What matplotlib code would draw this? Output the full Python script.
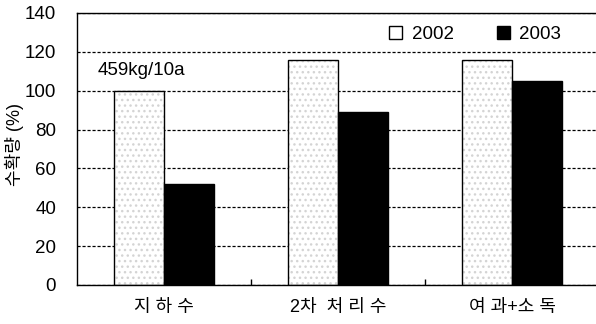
import numpy as np
import matplotlib.pyplot as plt

plt.rcParams['font.family'] = ['Liberation Sans', 'Noto Sans CJK KR']

# yield relative to groundwater irrigation (%)
categories = ['지 하 수', '2차  처 리 수', '여 과+소 독']
yield_2002 = [100, 116, 116]
yield_2003 = [52, 89, 105]
years = ['2002', '2003']
y_ticks = [0, 20, 40, 60, 80, 100, 120, 140]

fig = plt.figure(figsize=(5.96, 3.24), dpi=100)
ax = fig.add_axes([0.1292, 0.1204, 0.876, 0.8395])

x = np.arange(len(categories))
w = 0.287

# stippled light bars: a faint dotted hatch under a plain black outline
ax.bar(x - w / 2, yield_2002, w, color='white', hatch='...', edgecolor='#d4d4d4',
       linewidth=0, zorder=2)
ax.bar(x - w / 2, yield_2002, w, facecolor='none', edgecolor='black', linewidth=1.0,
       zorder=3, label=years[0])
ax.bar(x + w / 2, yield_2003, w, color='black', edgecolor='black', linewidth=1.0,
       zorder=3, label=years[1])

ax.set_xlim(-0.5, len(categories) - 0.5)
ax.set_ylim(0, 140)
ax.set_yticks(y_ticks)
ax.set_yticklabels([str(v) for v in y_ticks], fontsize=13.5)
ax.tick_params(axis='y', length=0, pad=15)

ax.set_xticks(x)
ax.set_xticklabels(categories, fontsize=13)
ax.tick_params(axis='x', length=0, pad=10)
ax.set_xticks(x[:-1] + 0.5, minor=True)
ax.tick_params(axis='x', which='minor', direction='in', length=4, width=1)

ax.grid(axis='y', linestyle=(0, (2.5, 1.5)), color='black', linewidth=0.9, zorder=1)
for s in ax.spines.values():
    s.set_linewidth(1.0)
ax.spines['right'].set_visible(False)

ax.set_ylabel('수확량 (%)', fontsize=13)
ax.yaxis.set_label_coords(-0.101, 0.515)

ax.text(-0.5 + 0.12, 110.5, '459kg/10a', fontsize=13.5, ha='left', va='center')

ax.legend(loc='upper right', bbox_to_anchor=(0.96, 1.015), ncol=2, frameon=False,
          fontsize=13.5, handlelength=0.7, handleheight=0.7, handletextpad=0.5,
          columnspacing=2.3)

fig.savefig('out.png', dpi=100)
